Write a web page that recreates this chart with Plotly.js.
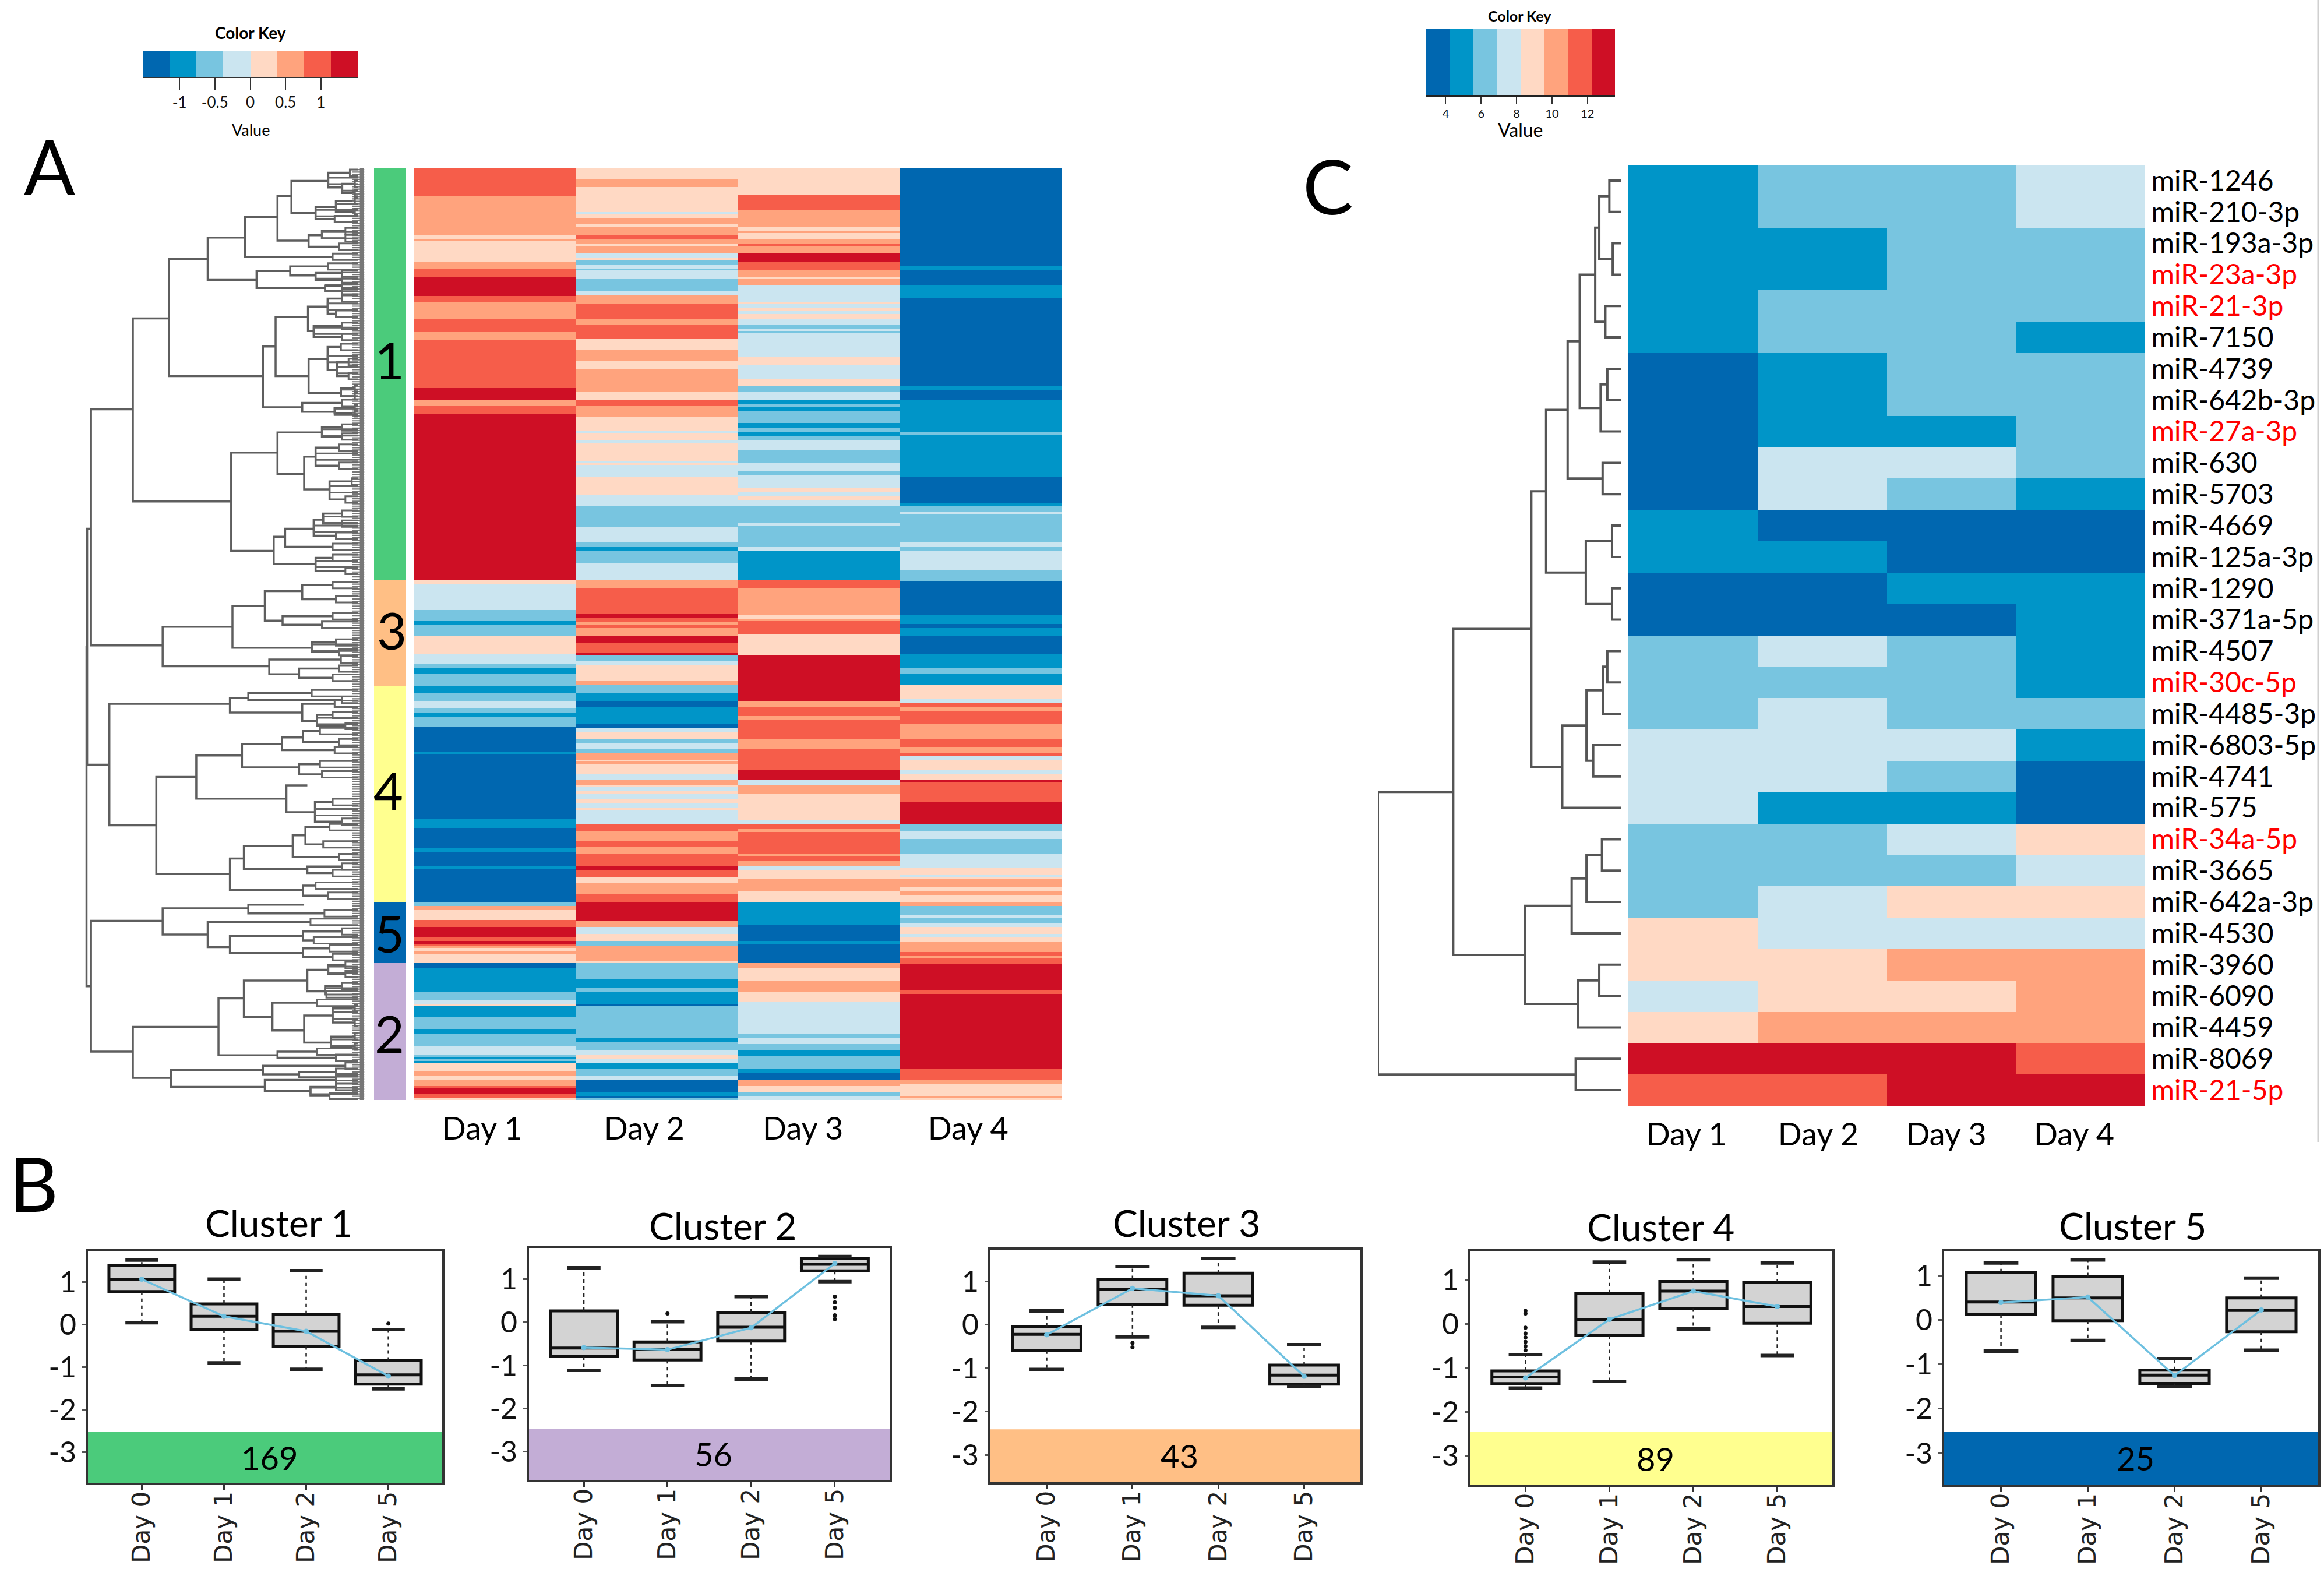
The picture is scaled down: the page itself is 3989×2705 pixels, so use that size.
<!DOCTYPE html>
<html><head><meta charset="utf-8">
<script src="https://cdn.plot.ly/plotly-3.0.1.min.js"></script>
<style>html,body{margin:0;padding:0;background:#fff}</style></head>
<body><div id="chart" style="width:3989px;height:2705px"></div>
<script>
const W=3989,H=2705;
const NARROW='Lato,"DejaVu Sans Condensed",sans-serif';
const palette=['#0067B0','#0095C8','#78C5E0','#CBE5F0','#FFD9C4','#FFA37D','#F65D4A','#CE0F25'];
const days=['Day 1','Day 2','Day 3','Day 4'];

// Panel A: each band is [colour bin 1-8, row position where the band ends]
const aTop=13,aBottom=4641;
const day1Bands=[[7,150],[6,345],[5,365],[6,375],[5,480],[6,510],[7,552],[8,648],[7,678],[6,762],[7,822],[6,865],[7,1105],[8,1165],[6,1195],[7,1235],[8,2058],[5,2078],[4,2208],[3,2263],[2,2280],[3,2333],[5,2423],[4,2473],[3,2493],[2,2523],[3,2583],[2,2618],[3,2660],[4,2693],[3,2720],[2,2740],[3,2790],[1,2910],[2,2923],[1,3244],[2,3293],[1,3391],[2,3408],[1,3479],[2,3491],[1,3658],[3,3676],[6,3698],[5,3748],[7,3781],[8,3833],[7,3852],[8,3866],[7,3876],[6,3886],[5,3901],[6,3916],[5,3961],[1,3988],[2,4104],[3,4146],[4,4164],[5,4176],[2,4228],[3,4291],[2,4311],[3,4373],[4,4416],[3,4426],[2,4436],[3,4446],[2,4456],[5,4498],[6,4519],[5,4539],[6,4571],[7,4581],[8,4612],[7,4633],[5,4641]];
const day2Bands=[[5,64],[6,105],[5,230],[4,240],[5,262],[6,290],[5,302],[6,345],[7,365],[6,385],[5,397],[6,435],[4,460],[5,470],[3,490],[4,510],[3,520],[4,562],[3,625],[4,645],[6,688],[7,760],[6,790],[7,862],[5,915],[6,967],[5,1010],[6,1122],[5,1165],[7,1195],[6,1248],[5,1315],[4,1330],[5,1362],[4,1380],[5,1465],[4,1477],[5,1487],[4,1548],[5,1633],[4,1693],[3,1796],[4,1870],[3,1893],[2,1913],[3,1976],[4,2058],[6,2100],[7,2223],[8,2246],[7,2265],[6,2280],[7,2296],[6,2336],[8,2368],[7,2418],[8,2433],[3,2463],[4,2483],[5,2558],[6,2578],[3,2618],[2,2660],[1,2691],[2,2775],[1,2793],[4,2816],[5,2848],[3,2868],[4,2898],[3,2920],[6,2950],[5,2960],[6,2970],[5,3023],[4,3053],[6,3075],[5,3088],[4,3108],[5,3118],[4,3148],[5,3168],[4,3189],[5,3201],[4,3271],[7,3304],[6,3354],[7,3386],[6,3418],[7,3481],[8,3501],[7,3533],[5,3564],[6,3616],[7,3658],[8,3751],[6,3781],[4,3816],[5,3851],[3,3874],[6,3948],[5,3961],[3,4041],[2,4083],[3,4104],[2,4166],[1,4176],[3,4331],[2,4353],[3,4394],[4,4416],[5,4436],[4,4456],[2,4488],[3,4519],[4,4539],[1,4601],[2,4623],[1,4633],[3,4641]];
const day3Bands=[[5,147],[7,218],[6,302],[5,322],[6,335],[5,365],[6,385],[7,397],[6,437],[8,480],[7,520],[6,552],[5,562],[6,592],[4,678],[5,688],[4,708],[5,718],[4,738],[5,762],[4,790],[3,810],[4,820],[3,830],[4,950],[5,990],[4,1060],[5,1092],[3,1122],[4,1165],[2,1185],[3,1197],[2,1217],[3,1278],[2,1300],[3,1320],[2,1342],[3,1362],[4,1413],[3,1475],[4,1517],[3,1538],[4,1600],[5,1621],[4,1641],[5,1663],[4,1693],[3,1776],[4,1788],[3,1890],[4,1911],[2,2058],[7,2100],[6,2233],[5,2253],[6,2263],[7,2328],[5,2433],[8,2660],[6,2691],[7,2733],[6,2753],[7,2848],[6,2898],[7,3003],[8,3048],[4,3075],[6,3118],[5,3251],[4,3271],[7,3294],[6,3311],[7,3418],[6,3431],[7,3451],[6,3481],[4,3501],[5,3541],[6,3604],[5,3658],[2,3771],[1,3851],[2,3864],[1,3961],[6,3988],[5,4051],[6,4104],[5,4156],[4,4311],[3,4331],[4,4364],[3,4394],[2,4424],[3,4488],[2,4508],[1,4539],[6,4571],[5,4601],[3,4623],[4,4641]];
const day4Bands=[[1,500],[2,520],[1,592],[2,655],[1,1092],[2,1112],[1,1165],[2,1320],[3,1340],[2,1548],[1,1673],[2,1693],[3,1718],[4,1733],[3,1870],[4,1893],[3,1911],[4,2008],[3,2066],[1,2233],[2,2276],[1,2296],[2,2336],[1,2423],[2,2493],[3,2523],[2,2576],[5,2648],[4,2670],[7,2690],[6,2711],[7,2775],[6,2846],[7,2888],[6,2918],[7,2930],[4,2950],[5,3003],[4,3023],[5,3053],[8,3065],[7,3158],[8,3271],[3,3304],[4,3344],[3,3418],[4,3489],[5,3521],[4,3533],[5,3544],[6,3584],[5,3604],[6,3626],[5,3658],[6,3676],[3,3721],[4,3738],[3,3761],[4,3781],[5,3816],[4,3833],[5,3854],[6,3906],[7,3926],[6,3936],[7,3966],[8,4093],[7,4114],[8,4488],[7,4539],[6,4559],[5,4623],[6,4633],[5,4641]];

// cluster side bar of panel A
const clusterIds=[1,3,4,5,2];
const clusterEnds=[2058,2583,3658,3961,4641];
const clusterColors=['#4BCB7B','#C3ADD6','#FFBF85','#FFFF8F','#0067B0'];

// dendrogram of panel A: [split position, top row, top child position, bottom row, bottom child position]
const dendroA=[[17,2389,18,4076,24],[18,1803,24,2975,53],[24,1210,90,2383,137],[90,758,147,1668,245],[147,462,208,1045,295],[208,357,267,567,285],[267,255,318,452,405],[318,150,340,372,367],[340,75,398,235,378],[398,35,432,108,420],[420,90,440,135,440],[378,205,410,265,408],[410,175,440,230,440],[367,345,388,402,415],[388,325,425,360,425],[285,522,338,607,393],[338,500,398,545,378],[378,535,420,568,420],[393,597,420,622,420],[295,898,315,1200,357],[315,752,366,1045,367],[366,700,397,820,375],[397,660,420,735,410],[375,795,420,850,420],[367,960,397,1128,418],[397,900,418,1015,412],[412,975,430,1045,430],[418,1105,440,1145,440],[357,1178,420,1222,408],[408,1205,440,1230,440],[245,1425,318,1913,312],[318,1325,388,1530,360],[388,1300,420,1345,420],[360,1445,378,1608,400],[378,1400,415,1490,415],[400,1568,435,1658,425],[312,1843,330,1978,378],[330,1803,375,1893,405],[375,1758,390,1838,410],[390,1728,420,1778,420],[378,1948,405,2013,425],[137,2290,247,2486,305],[247,2186,298,2394,372],[298,2113,357,2260,326],[357,2083,405,2153,410],[326,2238,405,2280,388],[372,2368,410,2416,415],[305,2453,418,2526,352],[352,2498,415,2543,405],[53,2673,243,3276,127],[243,2643,272,2716,357],[272,2620,372,2653,420],[357,2673,408,2758,380],[380,2728,405,2783,425],[127,3036,190,3518,243],[190,2930,262,3144,332],[262,2873,325,2988,352],[325,2840,358,2903,408],[358,2808,385,2863,415],[352,2973,385,3023,388],[332,3078,365,3211,377],[377,3161,405,3258,420],[243,3441,265,3598,358],[265,3378,342,3494,365],[342,3326,362,3434,415],[362,3286,400,3371,390],[365,3481,420,3514,405],[358,3576,378,3626,398],[24,3751,137,4401,90],[137,3689,272,3819,208],[272,3671,360,3714,392],[208,3756,370,3881,243],[243,3826,358,3911,358],[358,3804,420,3848,375],[358,3888,400,3931,405],[90,4278,225,4531,150],[225,4136,265,4419,318],[265,4048,365,4228,310],[365,3994,398,4101,393],[398,3971,425,4016,425],[393,4076,420,4116,395],[310,4158,380,4296,360],[360,4221,405,4356,402],[405,4186,440,4256,440],[402,4326,440,4376,440],[318,4401,380,4431,410],[150,4491,295,4576,298],[295,4471,425,4514,352],[352,4501,410,4528,410],[298,4541,410,4596,370],[370,4576,410,4621,400]];

// Panel C
const mirLabels=['miR-1246','miR-210-3p','miR-193a-3p','miR-23a-3p','miR-21-3p','miR-7150','miR-4739','miR-642b-3p','miR-27a-3p','miR-630','miR-5703','miR-4669','miR-125a-3p','miR-1290','miR-371a-5p','miR-4507','miR-30c-5p','miR-4485-3p','miR-6803-5p','miR-4741','miR-575','miR-34a-5p','miR-3665','miR-642a-3p','miR-4530','miR-3960','miR-6090','miR-4459','miR-8069','miR-21-5p'];
const mirRed=['miR-23a-3p','miR-21-3p','miR-27a-3p','miR-30c-5p','miR-34a-5p','miR-21-5p'];
const cDay1=[2,2,2,2,2,2,1,1,1,1,1,2,2,1,1,3,3,3,4,4,4,3,3,3,5,5,4,5,8,7];
const cDay2=[3,3,2,2,3,3,2,2,2,4,4,1,2,1,1,4,3,4,4,4,2,3,3,4,4,5,5,6,8,7];
const cDay3=[3,3,3,3,3,3,3,3,2,4,3,1,1,2,1,3,3,3,4,3,2,4,3,5,4,6,5,6,8,8];
const cDay4=[4,4,3,3,3,2,3,3,3,3,2,1,1,2,2,2,2,3,2,1,1,5,4,5,4,6,6,6,7,8];
// dendrogram of panel C: [height, child, child]; a bare number is a row
const dendroC=[361,[249,[133,[111,[79,[61,[38,[32,[17,0,1],[12,2,3]],[23,4,5]],[30,[20,6,7],8]],[27,9,10]],[52,[13,11,12],[13,13,14]]],[87,[51,[26,[20,15,16],17],[41,18,19]],20]],[142,[73,[51,[28,21,22],23],24],[64,[32,25,26],27]]],[67,28,29]];

// colour keys
const keyAEdges=[-1.52,-1.14,-0.76,-0.38,0,0.38,0.76,1.14,1.52];
const keyATicks=[-1,-0.5,0,0.5,1];
const keyAText=['-1','-0.5','0','0.5','1'];
const keyCEdges=[2.9,4.23,5.56,6.89,8.22,9.55,10.88,12.21,13.55];
const keyCTicks=[4,6,8,10,12];
const levels=[1,2,3,4,5,6,7,8];

// Panel B
const boxDays=['Day 0','Day 1','Day 2','Day 5'];
const c1={name:'Cluster 1',n:169,color:'#4BCB7B',q1:[.77,-.12,-.51,-1.40],med:[1.06,.19,-.16,-1.18],q3:[1.38,.48,.24,-.85],lo:[.04,-.90,-1.05,-1.51],hi:[1.51,1.06,1.26,-.12],mean:[1.06,.19,-.16,-1.21],outX:[3],outY:[.02]};
const c2={name:'Cluster 2',n:56,color:'#C3ADD6',q1:[-.80,-.88,-.44,1.19],med:[-.60,-.63,-.12,1.34],q3:[.26,-.46,.22,1.48],lo:[-1.12,-1.47,-1.32,.94],hi:[1.26,.01,.59,1.52],mean:[-.59,-.64,-.13,1.36],outX:[1,3,3,3,3,3],outY:[.2,.59,.46,.33,.16,.07]};
const c3={name:'Cluster 3',n:43,color:'#FFBF85',q1:[-.59,.47,.45,-1.37],med:[-.22,.81,.67,-1.16],q3:[-.04,1.05,1.19,-.93],lo:[-1.03,-.28,-.06,-1.42],hi:[.32,1.34,1.53,-.46],mean:[-.23,.84,.67,-1.19],outX:[1,1],outY:[-.42,-.52]};
const c4={name:'Cluster 4',n:89,color:'#FFFF8F',q1:[-1.36,-.27,.35,.01],med:[-1.21,.09,.74,.39],q3:[-1.07,.69,.96,.94],lo:[-1.46,-1.31,-.12,-.72],hi:[-.70,1.40,1.45,1.38],mean:[-1.23,.10,.74,.39],outX:[0,0,0,0,0,0,0,0],outY:[.29,.23,-.09,-.22,-.31,-.41,-.51,-.60]};
const c5={name:'Cluster 5',n:25,color:'#0067B0',q1:[.13,-.01,-1.43,-.26],med:[.41,.50,-1.24,.22],q3:[1.08,.99,-1.13,.50],lo:[-.70,-.46,-1.50,-.68],hi:[1.29,1.36,-.87,.95],mean:[.40,.52,-1.25,.23],outX:[],outY:[]};
const clusters=[c1,c2,c3,c4,c5];
const boxFrames=[[151,759,2148,2545,1.71,-3.71,-2.51],[908,1527,2142,2540,1.72,-3.66,-2.47],[1700,2335,2145,2544,1.73,-3.63,-2.41],[2524,3145,2148,2548,1.64,-3.65,-2.46],[3337,3979,2148,2548,1.55,-3.71,-2.52]];

const px=x=>x/W, py=y=>1-y/H;
const layout={width:W,height:H,margin:{l:0,r:0,t:0,b:0},paper_bgcolor:'#fff',plot_bgcolor:'rgba(0,0,0,0)',showlegend:false,shapes:[],annotations:[],font:{family:NARROW,color:'#000'}};
const traces=[];
let axN=0;
function axes(x0,x1,y0,y1,xo,yo){axN++;const s=axN===1?'':axN;
  const base={zeroline:false,showgrid:false,showline:false,ticks:'',showticklabels:false,automargin:false};
  layout['xaxis'+s]=Object.assign({},base,{domain:[px(x0),px(x1)],anchor:'y'+s},xo);
  layout['yaxis'+s]=Object.assign({},base,{domain:[py(y1),py(y0)],anchor:'x'+s},yo);
  return {x:'x'+s,y:'y'+s};}
const discrete=(cols)=>{const n=cols.length,o=[];cols.forEach((c,i)=>{o.push([i/n,c],[(i+1)/n,c])});return o};
function note(text,x,y,size,extra){layout.annotations.push(Object.assign({text,x:px(x),y:py(y),xref:'paper',yref:'paper',showarrow:false,xanchor:'center',yanchor:'middle',font:{size,family:NARROW,color:'#000'}},extra||{}));}

// --- panel A heatmap
const colsA=[day1Bands,day2Bands,day3Bands,day4Bands];
const edgeSet=new Set([aTop]);colsA.forEach(c=>c.forEach(b=>edgeSet.add(b[1])));
const edges=[...edgeSet].sort((p,q)=>p-q);
const levelAt=(c,y)=>{for(const b of c){if(y<b[1])return b[0];}return c[c.length-1][0]};
const zA=edges.slice(0,-1).map(y=>colsA.map(c=>levelAt(c,y)));
let a=axes(711,1823,289,1888,{range:[-.5,3.5],tickmode:'array',tickvals:[-.08,.92,1.9,2.92],ticktext:days,showticklabels:true,ticklen:0,ticklabelstandoff:13,tickfont:{size:54,family:NARROW,color:'#000'}},{range:[aBottom,aTop]});
traces.push({type:'heatmap',x:[-.5,.5,1.5,2.5,3.5],y:edges,z:zA,zmin:.5,zmax:8.5,colorscale:discrete(palette),showscale:false,xaxis:a.x,yaxis:a.y,hoverinfo:'skip'});
// cluster bar
const barEdges=[aTop,...clusterEnds];
a=axes(642,697,289,1888,{range:[0,1]},{range:[aBottom,aTop]});
traces.push({type:'heatmap',x:[0,1],y:barEdges,z:clusterIds.map(v=>[v]),zmin:.5,zmax:5.5,colorscale:discrete(clusterColors),showscale:false,xaxis:a.x,yaxis:a.y,hoverinfo:'skip'});
[['1',668,617],['3',672,1081],['4',666,1356],['5',668,1601],['2',668,1773]].forEach(t=>note(t[0],t[1],t[2],88));
// dendrogram A
a=axes(130,625.5,289,1888,{range:[0,455]},{range:[aBottom,aTop]});
const dx=[],dy=[];
dendroA.forEach(m=>{dx.push(m[2],m[0],m[0],m[4],null);dy.push(m[1],m[1],m[3],m[3],null)});
traces.push({type:'scatter',mode:'lines',x:dx,y:dy,line:{color:'#5e5e5e',width:3.5},xaxis:a.x,yaxis:a.y,hoverinfo:'skip'});
// fine leaves: one short stub per row, plus a small fork on every branch that stops near the leaves
const lx=[],ly=[];
for(let r=0;r<382;r++){const y=aTop+(r+.5)*(aBottom-aTop)/382;lx.push(436,455,null);ly.push(y,y,null)}
traces.push({type:'scatter',mode:'lines',x:lx,y:ly,line:{color:'#777',width:2.2},xaxis:a.x,yaxis:a.y,hoverinfo:'skip'});
const fx=[],fy=[];
dendroA.forEach(m=>{[[m[2],m[1]],[m[4],m[3]]].forEach(e=>{if(e[0]>=370){fx.push(445,e[0],e[0],445,null);fy.push(e[1]-16,e[1]-16,e[1]+16,e[1]+16,null)}})});
traces.push({type:'scatter',mode:'lines',x:fx,y:fy,line:{color:'#666',width:3},xaxis:a.x,yaxis:a.y,hoverinfo:'skip'});
traces.push({type:'scatter',mode:'lines',x:[451,451],y:[aTop,aBottom],line:{color:'#777',width:7},xaxis:a.x,yaxis:a.y,hoverinfo:'skip'});

// --- colour keys
a=axes(245,614,88,132,{range:[keyAEdges[0],keyAEdges[8]],tickmode:'array',tickvals:keyATicks,ticktext:keyAText,showticklabels:true,ticks:'outside',ticklen:20,tickwidth:2,tickcolor:'#333',showline:true,linecolor:'#333',linewidth:2,tickfont:{size:26,family:NARROW,color:'#111'}},{range:[0,1]});
traces.push({type:'heatmap',x:keyAEdges,y:[0,1],z:[levels],zmin:.5,zmax:8.5,colorscale:discrete(palette),showscale:false,xaxis:a.x,yaxis:a.y,hoverinfo:'skip'});
note('<b>Color Key</b>',430,56,28);note('Value',430,222,27);
a=axes(2448,2772,49,163,{range:[keyCEdges[0],keyCEdges[8]],tickmode:'array',tickvals:keyCTicks,showticklabels:true,ticks:'outside',ticklen:12,tickwidth:2,tickcolor:'#333',showline:true,linecolor:'#222',linewidth:3,tickfont:{size:20,family:NARROW,color:'#111'}},{range:[0,1]});
traces.push({type:'heatmap',x:keyCEdges,y:[0,1],z:[levels],zmin:.5,zmax:8.5,colorscale:discrete(palette),showscale:false,xaxis:a.x,yaxis:a.y,hoverinfo:'skip'});
note('<b>Color Key</b>',2608,27,25);note('Value',2610,223,32);

// --- panel C heatmap
const zC=mirLabels.map((_,i)=>[cDay1[i],cDay2[i],cDay3[i],cDay4[i]]);
const rowsC=mirLabels.map((_,i)=>i);
const mirText=mirLabels.map(t=>mirRed.includes(t)?'<span style="color:#f00">'+t+'</span>':t);
a=axes(2795,3682,283,1898,{range:[-.5,3.5],tickmode:'array',tickvals:[-.05,.97,1.96,2.95],ticktext:days,showticklabels:true,ticklen:0,ticklabelstandoff:13,tickfont:{size:54,family:NARROW,color:'#000'}},{range:[29.5,-.5],side:'right',tickmode:'array',tickvals:rowsC,ticktext:mirText,showticklabels:true,ticklen:0,ticks:'outside',tickcolor:'rgba(0,0,0,0)',tickfont:{size:48,family:NARROW,color:'#000'}});
traces.push({type:'heatmap',x:[0,1,2,3],y:rowsC,z:zC,zmin:.5,zmax:8.5,colorscale:discrete(palette),showscale:false,xaxis:a.x,yaxis:a.y,hoverinfo:'skip'});
// dendrogram C
a=axes(2365,2782,283,1898,{range:[361,0]},{range:[29.5,-.5]});
const cx=[],cy=[];
(function walk(n){if(typeof n==='number')return{h:0,y:n};const l=walk(n[1]),r=walk(n[2]);
  cx.push(l.h,n[0],n[0],r.h,null);cy.push(l.y,l.y,r.y,r.y,null);return{h:n[0],y:(l.y+r.y)/2};})(dendroC);
traces.push({type:'scatter',mode:'lines',x:cx,y:cy,line:{color:'#555',width:4},xaxis:a.x,yaxis:a.y,hoverinfo:'skip'});

// --- panel letters
note('A',85,285,130);note('C',2279,318,130);note('B',58,2030,130);
layout.shapes.push({type:'line',xref:'paper',yref:'paper',x0:px(3979),x1:px(3979),y0:py(0),y1:py(1960),line:{color:'#d0d0d0',width:3}});

// --- panel B
const titlePos=[[478,2098],[1240,2103],[2036,2098],[2850,2105],[3660,2103]];
clusters.forEach((c,i)=>{const f=boxFrames[i];
  const xr=[-.655,3.655];
  a=axes(f[0],f[1],f[2],f[3],{range:xr,tickmode:'array',tickvals:[0,1,2,3],ticktext:boxDays,showticklabels:true,ticks:'outside',ticklen:8,tickwidth:3,tickcolor:'#333',tickangle:-90,ticklabelstandoff:-14,showline:true,mirror:true,linecolor:'#333',linewidth:4,tickfont:{size:42,family:'"DejaVu Sans",sans-serif',color:'#222'}},
    {range:[f[5],f[4]],tickmode:'array',tickvals:[1,0,-1,-2,-3],ticktext:['1','0','-1','-2','-3'],showticklabels:true,ticks:'outside',ticklen:6,tickwidth:3,tickcolor:'#555',showline:true,mirror:true,linecolor:'#333',linewidth:4,tickfont:{size:50,family:NARROW,color:'#111'}});
  layout.shapes.push({type:'rect',xref:a.x,yref:a.y,x0:xr[0],x1:xr[1],y0:f[5],y1:f[6],fillcolor:c.color,line:{width:0},layer:'above'});
  layout.annotations.push({text:String(c.n),xref:a.x,yref:a.y,x:1.55,y:(f[5]+f[6])/2,showarrow:false,font:{size:56,family:NARROW,color:'#000'},xanchor:'center',yanchor:'middle'});
  const xs=[0,1,2,3];
  traces.push({type:'box',x:xs,q1:c.q1,median:c.med,q3:c.q3,lowerfence:c.q1,upperfence:c.q3,width:.8,whiskerwidth:0,boxpoints:false,fillcolor:'#D3D3D3',line:{color:'#111',width:5},xaxis:a.x,yaxis:a.y,hoverinfo:'skip'});
  const wx=[],wy=[];xs.forEach(k=>{wx.push(k,k,null,k,k,null);wy.push(c.q3[k],c.hi[k],null,c.q1[k],c.lo[k],null)});
  traces.push({type:'scatter',mode:'lines',x:wx,y:wy,line:{color:'#222',width:2.5,dash:'6px,6px'},xaxis:a.x,yaxis:a.y,hoverinfo:'skip'});
  const capx=[],capy=[];xs.forEach(k=>{capx.push(k-.2,k+.2,null,k-.2,k+.2,null);capy.push(c.hi[k],c.hi[k],null,c.lo[k],c.lo[k],null)});
  traces.push({type:'scatter',mode:'lines',x:capx,y:capy,line:{color:'#222',width:6},xaxis:a.x,yaxis:a.y,hoverinfo:'skip'});
  traces.push({type:'scatter',mode:'markers',x:c.outX,y:c.outY,marker:{size:7,color:'#111'},xaxis:a.x,yaxis:a.y,hoverinfo:'skip'});
  traces.push({type:'scatter',mode:'lines+markers',x:xs,y:c.mean,line:{color:'#6EC0E0',width:3.5},marker:{size:9,color:'#6EC0E0'},xaxis:a.x,yaxis:a.y,hoverinfo:'skip'});
  note(c.name,titlePos[i][0],titlePos[i][1],64);
});

Plotly.newPlot('chart',traces,layout,{displayModeBar:false,staticPlot:true});
</script></body></html>
